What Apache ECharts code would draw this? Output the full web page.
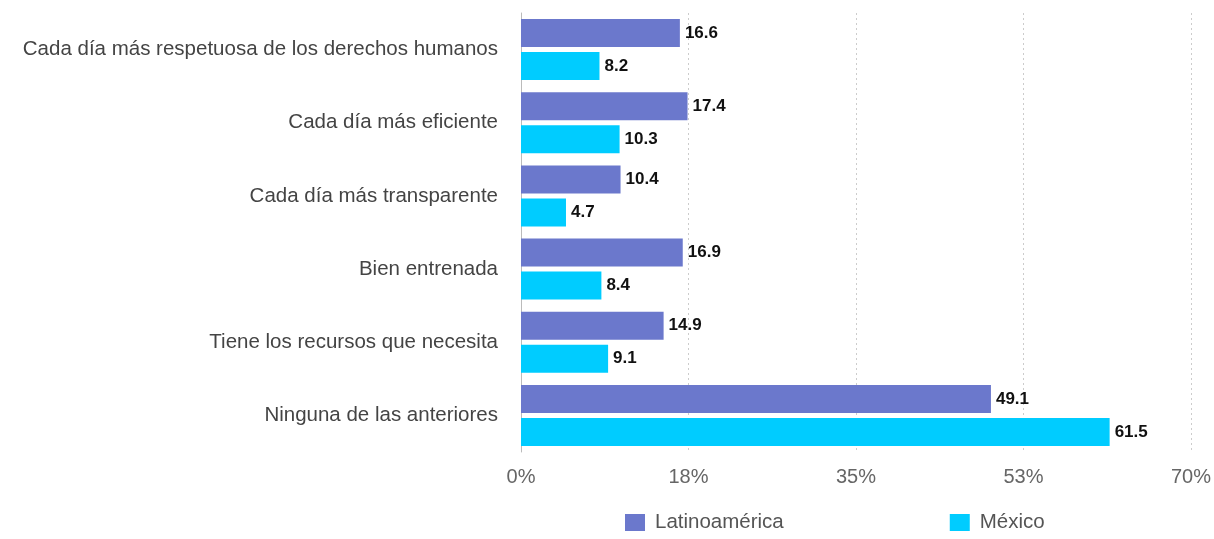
<!DOCTYPE html>
<html><head><meta charset="utf-8">
<script src="https://cdn.jsdelivr.net/npm/echarts@6/dist/echarts.min.js"></script>
<style>html,body{margin:0;padding:0;background:#fff}#c{width:1214px;height:539px}</style>
</head><body><div id="c"></div>
<script>
const categories = ["Cada día más respetuosa de los derechos humanos","Cada día más eficiente","Cada día más transparente","Bien entrenada","Tiene los recursos que necesita","Ninguna de las anteriores"];
const latam = [16.6, 17.4, 10.4, 16.9, 14.9, 49.1];
const mexico = [8.2, 10.3, 4.7, 8.4, 9.1, 61.5];
const seriesNames = ["Latinoamérica", "México"];
const tickLabels = {0:"0%",17.5:"18%",35:"35%",52.5:"53%",70:"70%"};

const chart = echarts.init(document.getElementById('c'));
const lbl = {show:true, position:'right', distance:5, color:'#111', fontWeight:'bold', fontSize:17, fontFamily:'Liberation Sans, Arial, sans-serif'};
chart.setOption({
  animation:false,
  textStyle:{fontFamily:'Liberation Sans, Arial, sans-serif'},
  grid:{left:521, right:22, top:13, bottom:87, containLabel:false},
  legend:{bottom:1, left:620, itemGap:166, itemWidth:20, itemHeight:17, icon:'rect',
    textStyle:{fontSize:20.5, color:'#555', padding:[0,0,0,5]}, data:seriesNames},
  xAxis:{type:'value', min:0, max:70, interval:17.5,
    axisLine:{show:false}, axisTick:{show:false},
    splitLine:{show:true, lineStyle:{color:'#ccc', type:[2,3], width:1}},
    axisLabel:{fontSize:20, color:'#666', margin:15, formatter:v=>tickLabels[v]!==undefined?tickLabels[v]:''}},
  yAxis:{type:'category', data:categories, inverse:true,
    axisLine:{show:true, lineStyle:{color:'#bbb', width:1}}, axisTick:{show:false},
    axisLabel:{fontSize:20.5, color:'#444', margin:23}},
  series:[
    {name:seriesNames[0], type:'bar', data:latam, barWidth:28, barGap:'18%', itemStyle:{color:'#6b78cc'}, label:lbl},
    {name:seriesNames[1], type:'bar', data:mexico, barWidth:28, itemStyle:{color:'#00ccff'}, label:lbl}
  ]
});
</script></body></html>
